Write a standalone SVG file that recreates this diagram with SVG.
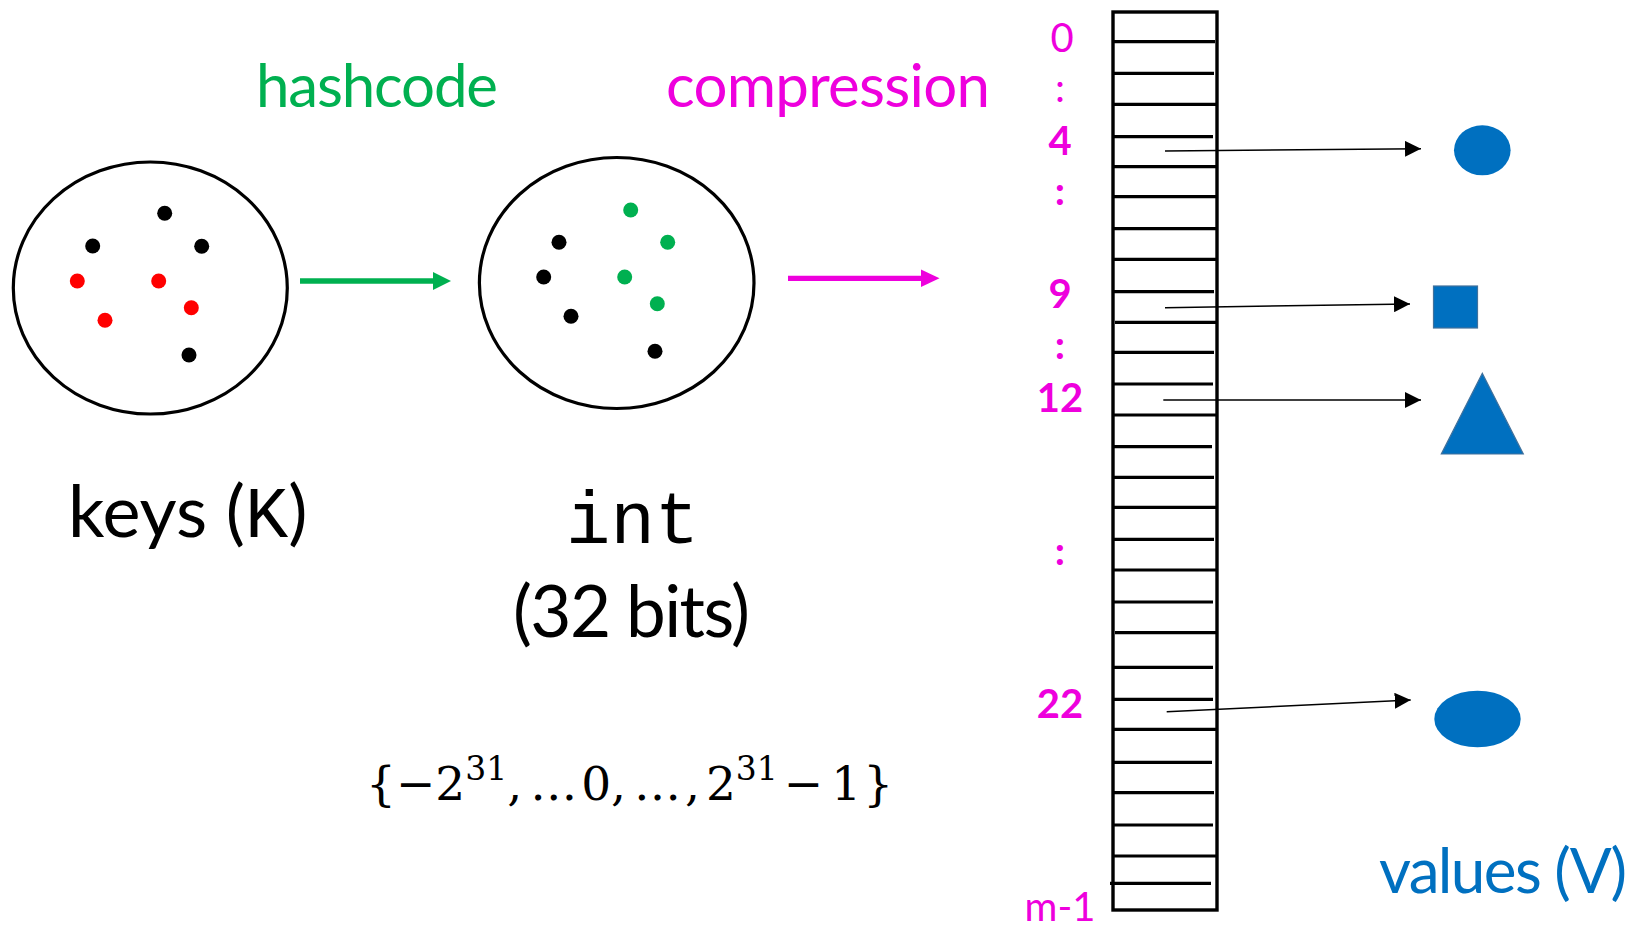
<svg xmlns="http://www.w3.org/2000/svg" width="1634" height="927" viewBox="0 0 1634 927">
  <style>
    .sans { font-family: Lato, "Open Sans", "Liberation Sans", sans-serif; }
    .mono { font-family: "Liberation Mono", "Courier New", monospace; }
    .math { font-family: "DejaVu Serif", "Liberation Serif", serif; fill: #000; }
    .set { fill: #fff; stroke: #000; stroke-width: 3.2; }
    .dot-k { fill: #000; }
    .dot-r { fill: #ff0000; }
    .dot-g { fill: #00b050; }
    .idx { font-family: Lato, "Open Sans", "Liberation Sans", sans-serif; fill: #ee00dd; font-size: 40px; text-anchor: middle; }
    .row { stroke: #000; stroke-width: 3.2; }
    .ptr { stroke: #000; stroke-width: 1.5; fill: none; marker-end: url(#tip); }
    .val { fill: #0070c0; }
  </style>
  <defs>
    <marker id="tip" markerUnits="userSpaceOnUse" markerWidth="18" markerHeight="16" refX="16" refY="8" orient="auto">
      <path d="M0,0 L16,8 L0,16 Z" fill="#000"/>
    </marker>
  </defs>

  <rect width="1634" height="927" fill="#fff"/>

  <!-- top labels -->
  <text class="sans" x="256" y="107" font-size="60" fill="#00b050" textLength="242">hashcode</text>
  <text class="sans" x="666" y="107" font-size="60" fill="#ee00dd" textLength="324">compression</text>

  <!-- key set -->
  <g id="keys">
    <ellipse class="set" cx="150.3" cy="288" rx="137" ry="126"/>
    <circle class="dot-k" cx="164.7" cy="213.3" r="7.5"/>
    <circle class="dot-k" cx="92.7" cy="246" r="7.5"/>
    <circle class="dot-k" cx="201.7" cy="246.3" r="7.5"/>
    <circle class="dot-r" cx="77.3" cy="281" r="7.5"/>
    <circle class="dot-r" cx="158.7" cy="281" r="7.5"/>
    <circle class="dot-r" cx="191.3" cy="307.7" r="7.5"/>
    <circle class="dot-r" cx="105" cy="320.3" r="7.5"/>
    <circle class="dot-k" cx="189" cy="355" r="7.5"/>
    <text class="sans" x="68" y="537" font-size="72" fill="#000">keys (<tspan class="mono">K</tspan>)</text>
  </g>

  <!-- int set -->
  <g id="ints">
    <ellipse class="set" cx="616.7" cy="283" rx="137.3" ry="125.5"/>
    <circle class="dot-g" cx="630.7" cy="210" r="7.5"/>
    <circle class="dot-g" cx="667.7" cy="242.3" r="7.5"/>
    <circle class="dot-k" cx="559" cy="242.3" r="7.5"/>
    <circle class="dot-k" cx="543.7" cy="277" r="7.5"/>
    <circle class="dot-g" cx="624.7" cy="277" r="7.5"/>
    <circle class="dot-g" cx="657.3" cy="303.7" r="7.5"/>
    <circle class="dot-k" cx="571" cy="316.3" r="7.5"/>
    <circle class="dot-k" cx="655" cy="351.3" r="7.5"/>
    <text class="mono" x="566" y="543" font-size="74" fill="#000">int</text>
    <text class="sans" x="513" y="637" font-size="71" fill="#000" textLength="237">(32 bits)</text>
    <!-- value range of a 32-bit int -->
    <text class="math" x="366" y="800" font-size="47">{−2<tspan dy="-20" font-size="33">31</tspan><tspan dy="20">,</tspan><tspan dx="8">…</tspan><tspan dx="4">0,</tspan><tspan dx="8">…</tspan><tspan dx="4">,</tspan><tspan dx="6">2</tspan><tspan dy="-20" font-size="33">31</tspan><tspan dx="6" dy="20">−</tspan><tspan dx="8">1</tspan><tspan dx="2">}</tspan></text>
  </g>

  <!-- hash table buckets -->
  <g id="table">
    <rect x="1113" y="12" width="104" height="898" fill="none" stroke="#000" stroke-width="3.4"/>
    <g class="row">
      <line x1="1113" y1="41.7" x2="1215" y2="41.7"/>
      <line x1="1113" y1="73.3" x2="1214" y2="73.3"/>
      <line x1="1113" y1="104.3" x2="1217" y2="104.3"/>
      <line x1="1113" y1="136.7" x2="1213" y2="136.7"/>
      <line x1="1113" y1="166.7" x2="1217" y2="166.7"/>
      <line x1="1113" y1="196.7" x2="1217" y2="196.7"/>
      <line x1="1113" y1="228.7" x2="1217" y2="228.7"/>
      <line x1="1113" y1="259.3" x2="1217" y2="259.3"/>
      <line x1="1113" y1="291.7" x2="1214" y2="291.7"/>
      <line x1="1115" y1="322.3" x2="1217" y2="322.3"/>
      <line x1="1113" y1="352.3" x2="1214" y2="352.3"/>
      <line x1="1113" y1="384" x2="1213" y2="384"/>
      <line x1="1113" y1="415" x2="1217" y2="415"/>
      <line x1="1113" y1="446.7" x2="1212" y2="446.7"/>
      <line x1="1113" y1="477.3" x2="1214" y2="477.3"/>
      <line x1="1113" y1="507.3" x2="1217" y2="507.3"/>
      <line x1="1113" y1="539.3" x2="1214" y2="539.3"/>
      <line x1="1113" y1="570" x2="1217" y2="570"/>
      <line x1="1113" y1="602" x2="1213" y2="602"/>
      <line x1="1115" y1="632.7" x2="1217" y2="632.7"/>
      <line x1="1113" y1="667.3" x2="1213" y2="667.3"/>
      <line x1="1113" y1="699.3" x2="1213" y2="699.3"/>
      <line x1="1113" y1="729.3" x2="1217" y2="729.3"/>
      <line x1="1113" y1="762.3" x2="1212" y2="762.3"/>
      <line x1="1113" y1="792.7" x2="1214" y2="792.7"/>
      <line x1="1113" y1="825" x2="1213" y2="825"/>
      <line x1="1113" y1="856" x2="1217" y2="856"/>
      <line x1="1110" y1="883.3" x2="1211" y2="883.3"/>
    </g>
    <text class="idx" x="1062" y="52" font-size="38">0</text>
    <text class="idx" x="1060" y="102" font-size="38">:</text>
    <text class="idx" x="1060" y="155" font-weight="bold">4</text>
    <text class="idx" x="1060" y="205" font-weight="bold">:</text>
    <text class="idx" x="1060" y="308" font-weight="bold">9</text>
    <text class="idx" x="1060" y="359" font-weight="bold">:</text>
    <text class="idx" x="1060" y="412" font-weight="bold">12</text>
    <text class="idx" x="1060" y="565" font-weight="bold">:</text>
    <text class="idx" x="1060" y="718" font-weight="bold">22</text>
    <text class="idx" x="1060" y="921">m-1</text>
  </g>

  <!-- values -->
  <g id="v-row4"><ellipse class="val" cx="1482.3" cy="150.3" rx="28.3" ry="25"/></g>
  <g id="v-row9"><rect class="val" x="1433.5" y="286" width="44" height="42" stroke="#41719c" stroke-width="1.2"/></g>
  <g id="v-row12"><polygon class="val" points="1482.3,373.3 1523.3,454 1441.3,454" stroke="#41719c" stroke-width="1.2"/></g>
  <g id="v-row22"><ellipse class="val" cx="1477.5" cy="719" rx="43.2" ry="28.3"/></g>
  <text class="sans" x="1379" y="893" font-size="62" fill="#0070c0" textLength="248">values (V)</text>

  <!-- connectors -->
  <g id="connectors">
    <line x1="300" y1="281" x2="434" y2="281" stroke="#00b050" stroke-width="5.3"/>
    <polygon points="433,272 451,281 433,290" fill="#00b050"/>
    <line x1="788" y1="278.3" x2="922" y2="278.3" stroke="#ee00dd" stroke-width="5.3"/>
    <polygon points="921,269.5 939.5,278.3 921,287" fill="#ee00dd"/>
    <line class="ptr" x1="1165" y1="151" x2="1421" y2="148.7"/>
    <line class="ptr" x1="1165" y1="307.7" x2="1410" y2="304"/>
    <line class="ptr" x1="1163.3" y1="400" x2="1421" y2="400"/>
    <line class="ptr" x1="1166.7" y1="711.7" x2="1410.7" y2="700"/>
  </g>
</svg>
